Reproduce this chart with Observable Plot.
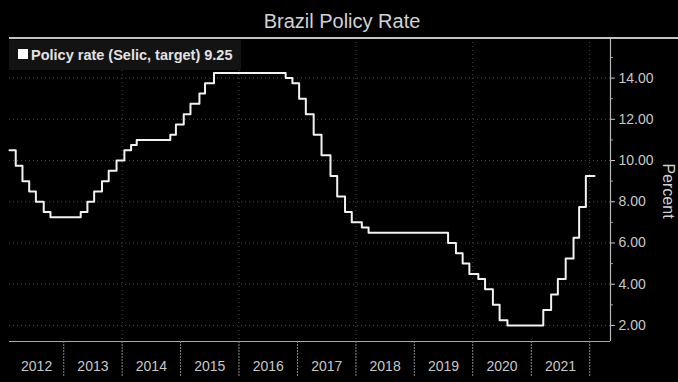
<!DOCTYPE html>
<html>
<head>
<meta charset="utf-8">
<script src="https://cdn.jsdelivr.net/npm/d3@7"></script>
<script src="https://cdn.jsdelivr.net/npm/@observablehq/plot@0.6"></script>
<style>
  html, body { margin: 0; padding: 0; background: #000; }
  body { width: 678px; height: 382px; overflow: hidden; position: relative; font-family: "Liberation Sans", Arial, sans-serif; }
  #chart { position: absolute; left: 0; top: 0; }
  #title { position: absolute; top: 11px; left: 0; width: 684px; text-align: center; color: #d2d2d2; font-size: 20px; line-height: 20px; }
  #topline { position: absolute; top: 37px; left: 9px; width: 669px; height: 2px; background: #c4c4c4; }
  #legend { position: absolute; top: 40px; left: 9px; width: 232px; height: 30px; background: #131313; }
  #legend .sw { position: absolute; left: 9px; top: 9px; width: 10px; height: 10px; background: #fff; }
  #legend .tx { position: absolute; left: 22px; top: 7.5px; font-weight: bold; font-size: 14.5px; line-height: 15px; color: #e2e2e2; white-space: nowrap; }
  #ylabel { position: absolute; left: 668px; top: 191px; transform: translate(-50%, -50%) rotate(90deg); color: #cfcfcf; font-size: 16px; white-space: nowrap; }
</style>
</head>
<body>
<div id="chart"></div>
<div id="title">Brazil Policy Rate</div>
<div id="topline"></div>
<div id="legend"><div class="sw"></div><div class="tx">Policy rate (Selic, target) 9.25</div></div>
<div id="ylabel">Percent</div>
<script>
// Selic target changes (date of change, rate in percent)
const dates = [
  "2012-01-28","2012-03-07","2012-04-18","2012-05-30","2012-07-11","2012-08-29","2012-10-10",
  "2013-04-17","2013-05-29","2013-07-10","2013-08-28","2013-10-09","2013-11-27",
  "2014-01-15","2014-02-26","2014-04-02","2014-10-29","2014-12-03",
  "2015-01-21","2015-03-04","2015-04-29","2015-06-03","2015-07-29",
  "2016-10-19","2016-11-30",
  "2017-01-11","2017-02-22","2017-04-12","2017-05-31","2017-07-26","2017-09-06","2017-10-25","2017-12-06",
  "2018-02-07","2018-03-21",
  "2019-07-31","2019-09-18","2019-10-30","2019-12-11",
  "2020-02-05","2020-03-18","2020-05-06","2020-06-17","2020-08-05",
  "2021-03-17","2021-05-05","2021-06-16","2021-08-04","2021-09-22","2021-10-27","2021-12-08",
  "2022-01-31"
];
const rates = [
  10.5, 9.75, 9.0, 8.5, 8.0, 7.5, 7.25,
  7.5, 8.0, 8.5, 9.0, 9.5, 10.0,
  10.5, 10.75, 11.0, 11.25, 11.75,
  12.25, 12.75, 13.25, 13.75, 14.25,
  14.0, 13.75,
  13.0, 12.25, 11.25, 10.25, 9.25, 8.25, 7.5, 7.0,
  6.75, 6.5,
  6.0, 5.5, 5.0, 4.5,
  4.25, 3.75, 3.0, 2.25, 2.0,
  2.75, 3.5, 4.25, 5.25, 6.25, 7.75, 9.25,
  9.25
];
const yearLabels = ["2012","2013","2014","2015","2016","2017","2018","2019","2020","2021"];
const yearBoundaries = ["2013","2014","2015","2016","2017","2018","2019","2020","2021","2022"];
const gridYears = ["2014","2016","2018","2020","2022"];
const yTicks = [2, 4, 6, 8, 10, 12, 14];
const yMinorTicks = [3, 5, 7, 9, 11, 13, 15];
const xStart = "2012-01-28", xEnd = "2022-05-11";
const yMin = 1.22, yMax = 15.92;

const data = dates.map((d, i) => ({date: new Date(d + "T00:00:00Z"), rate: rates[i]}));
const x0 = new Date(xStart + "T00:00:00Z"), x1 = new Date(xEnd + "T00:00:00Z");
const toDate = y => new Date(Date.UTC(+y, 0, 1));
const labels = yearLabels.map(y => {
  const a = Math.max(+toDate(y), +x0), b = Math.min(+toDate(+y + 1), +x1);
  return {mid: new Date((a + b) / 2), year: y};
});

const chart = Plot.plot({
  width: 678, height: 382,
  marginTop: 38, marginBottom: 41, marginLeft: 9, marginRight: 68,
  style: {background: "#000", fontFamily: "'Liberation Sans', Arial, sans-serif"},
  x: {type: "utc", domain: [x0, x1], axis: null},
  y: {domain: [yMin, yMax], axis: null},
  marks: [
    Plot.gridX(gridYears.map(toDate), {stroke: "#3e503f", strokeOpacity: 1, strokeDasharray: "1,3"}),
    Plot.gridY(yTicks, {stroke: "#3e503f", strokeOpacity: 1, strokeDasharray: "1,3"}),
    Plot.ruleY([yMin], {stroke: "#a8a8a8", strokeWidth: 1.2}),
    Plot.ruleX([x1], {stroke: "#b8b8b8", strokeWidth: 1.2}),
    Plot.axisX(yearBoundaries.map(toDate), {tickSize: 35, tickFormat: () => "", stroke: "#8a8a8a", strokeDasharray: "2,1"}),
    Plot.text(labels, {x: "mid", text: "year", frameAnchor: "bottom", lineAnchor: "middle", dy: 25, fill: "#c8c8c8", fontSize: 14}),
    Plot.axisY(yMinorTicks, {anchor: "right", tickSize: 2, tickFormat: () => "", stroke: "#9a9a9a", label: null}),
    Plot.axisY(yTicks, {anchor: "right", tickSize: 4, tickPadding: 4, tickFormat: d => d.toFixed(2), color: "#c8c8c8", fontSize: 14, label: null}),
    Plot.line(data, {x: "date", y: "rate", curve: "step-after", stroke: "#f2f2f2", strokeWidth: 2})
  ]
});
document.getElementById("chart").appendChild(chart);
</script>
</body>
</html>
